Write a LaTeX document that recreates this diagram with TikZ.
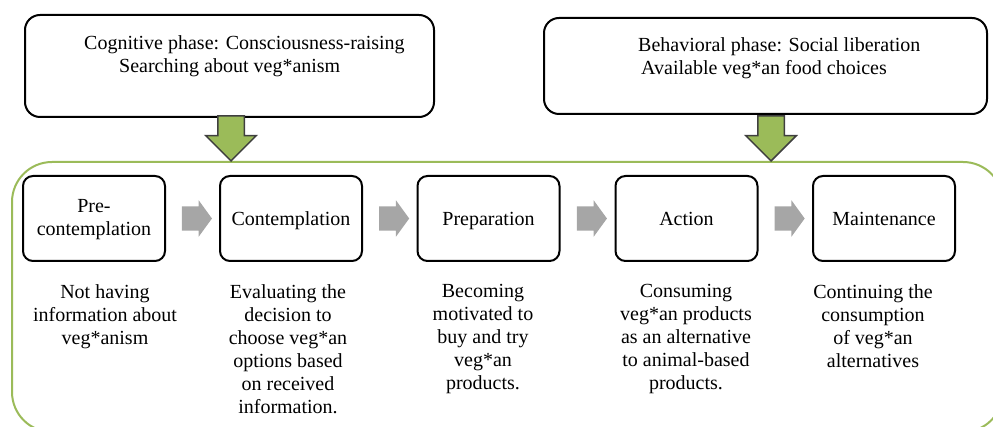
\documentclass[tikz,border=0pt]{standalone}
\usepackage{fontspec}
\setmainfont{Liberation Serif}
\usetikzlibrary{calc,shapes.arrows}
\definecolor{olive}{HTML}{9BBB59}
\definecolor{arrowedge}{HTML}{3F3F3F}
\definecolor{flowgray}{HTML}{A6A6A6}
\tikzset{
  phasebox/.style={draw=black, line width=2pt, rounded corners=15pt, inner sep=0pt},
  stagebox/.style={draw=black, line width=2pt, rounded corners=10pt, minimum width=142pt,
                   minimum height=85pt, inner sep=0pt, align=center},
  oneline/.style={text height=14pt, text depth=0pt},
  desc/.style={anchor=north, align=center, inner sep=0pt},
  flowarrow/.style={single arrow, fill=flowgray, draw=none, inner xsep=0pt, inner ysep=12pt,
                    minimum height=30pt, single arrow head extend=6pt, single arrow tip angle=108},
  downarrow/.style={single arrow, fill=olive, draw=arrowedge, line width=1.5pt, inner xsep=0pt,
                    inner ysep=12.5pt, minimum height=45pt, single arrow head extend=12pt,
                    rotate=-90},
}
\begin{document}
\begin{tikzpicture}[x=1pt, y=-1pt, font=\fontsize{20}{23}\selectfont]
\useasboundingbox (0,0) rectangle (993,427);
\clip (0,0) rectangle (993,427);

% stage container
\draw[olive, line width=2pt, rounded corners=40pt] (12,162) rectangle (1003,432);

% phase boxes
\node[phasebox, minimum width=409pt, minimum height=102pt] (cog) at (229.5,66) {};
\node[anchor=north west, align=left, inner sep=0pt] (cogtxt) at (84,35)
  {Cognitive phase: Consciousness-raising\\\hspace*{35pt}Searching about veg*anism};
\node[phasebox, minimum width=443pt, minimum height=96pt] (beh) at (765.5,66) {};
\node[anchor=north west, align=left, inner sep=0pt] (behtxt) at (638,37)
  {Behavioral phase: Social liberation\\\hspace*{3pt}Available veg*an food choices};

% phase arrows into the stages
\coordinate (top1) at (231,162);
\coordinate (top2) at (771,162);
\node[downarrow, anchor=tip] (a1) at (top1) {};
\node[downarrow, anchor=tip] (a2) at (top2) {};

% stages
\node[stagebox, text height=36.2pt, text depth=1.2pt] (pre)  at (94,218.5)  {Pre-\\contemplation};
\node[stagebox, oneline] (con)  at (291,218.5) {Contemplation};
\node[stagebox, oneline] (prep) at (488.5,218.5) {Preparation};
\node[stagebox, oneline] (act)  at (686.5,218.5) {Action};
\node[stagebox, oneline] (main) at (884,218.5) {Maintenance};

% flow between stages
\foreach \a/\b in {pre/con, con/prep, prep/act, act/main}
  \node[flowarrow] at ($(\a.east)!0.5!(\b.west)$) {};

% stage descriptions
\node[desc] (d1) at (105,284) {Not having\\information about\\veg*anism};
\node[desc] (d2) at (288,284) {Evaluating the\\decision to\\choose veg*an\\options based\\on received\\information.};
\node[desc] (d3) at (483,284) {Becoming\\motivated to\\buy and try\\veg*an\\products.};
\node[desc] (d4) at (686,284) {Consuming\\veg*an products\\as an alternative\\to animal-based\\products.};
\node[desc] (d5) at (873,284) {Continuing the\\consumption\\of veg*an\\alternatives};
\end{tikzpicture}
\end{document}
